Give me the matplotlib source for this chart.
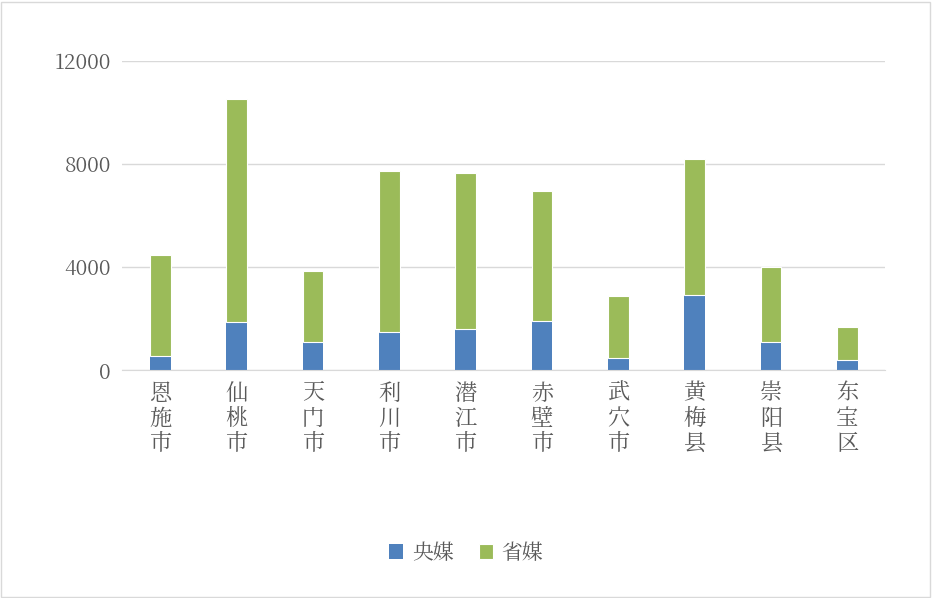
import matplotlib.pyplot as plt
from matplotlib import font_manager
import numpy as np

# find a CJK font that is actually installed
cjk = None
for f in font_manager.fontManager.ttflist:
    if 'CJK' in f.name and ('SC' in f.name or cjk is None):
        cjk = f.name
        if 'SC' in f.name:
            break
plt.rcParams['font.family'] = 'sans-serif'
plt.rcParams['font.sans-serif'] = [cjk or 'Noto Sans CJK SC', 'Noto Sans CJK JP', 'DejaVu Sans']

categories = ['恩施市', '仙桃市', '天门市', '利川市', '潜江市', '赤壁市', '武穴市', '黄梅县', '崇阳县', '东宝区']
central = [550, 1860, 1090, 1480, 1590, 1900, 470, 2910, 1090, 390]
total = [4470, 10520, 3850, 7730, 7650, 6950, 2870, 8190, 4000, 1670]
provincial = [t - c for t, c in zip(total, central)]
yticks = [0, 4000, 8000, 12000]

fig = plt.figure(figsize=(9.32, 5.98), dpi=100)
fig.patches.append(plt.Rectangle((0.001, 0.002), 0.997, 0.995, transform=fig.transFigure,
                                 fill=False, edgecolor='#d9d9d9', linewidth=1))
ax = fig.add_axes([0.131, 0.381, 0.819, 0.517])

x = np.arange(len(categories))
w = 0.27
ax.bar(x, central, w, color='#4f81bd', label='央媒')
ax.bar(x, provincial, w, bottom=central, color='#9bbb59', label='省媒',
       edgecolor='white', linewidth=0.8)

ax.set_ylim(0, 12000)
ax.set_xlim(-0.5, len(categories) - 0.5)
ax.set_yticks(yticks)
ax.set_yticklabels([str(v) for v in yticks], fontsize=15, color='#595959')
ax.set_xticks(x)
ax.set_xticklabels(['\n'.join(c) for c in categories], fontsize=16, color='#595959',
                   linespacing=1.05)
ax.tick_params(length=0, pad=8)
ax.grid(True, axis='y', color='#d9d9d9', linewidth=1)
ax.set_axisbelow(True)
for s in ['top', 'right', 'left']:
    ax.spines[s].set_visible(False)
ax.spines['bottom'].set_color('#d9d9d9')

fig.legend(loc='center', bbox_to_anchor=(0.5, 0.075), ncol=2, frameon=False,
           fontsize=15, labelcolor='#595959', handlelength=0.7, handleheight=0.7,
           columnspacing=1.2, handletextpad=0.4)

fig.savefig('out.png', dpi=100)
